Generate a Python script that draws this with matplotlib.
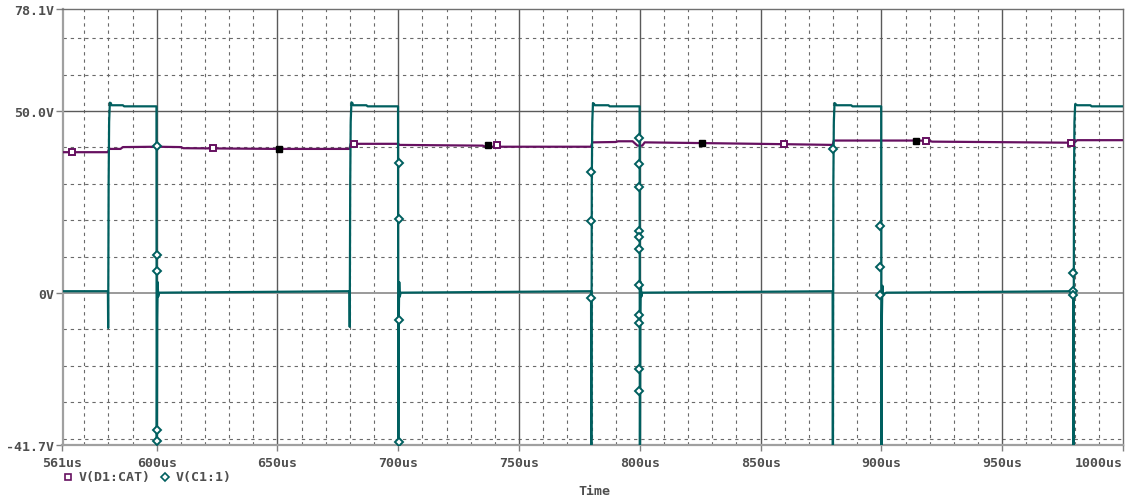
import numpy as np
import matplotlib
matplotlib.use('Agg')
import matplotlib.pyplot as plt
from matplotlib.lines import Line2D

# Axis range and labels
x_min, x_max = 561, 1000
y_min, y_max = -41.7, 78.1
x_ticks = [561, 600, 650, 700, 750, 800, 850, 900, 950, 1000]
x_tick_labels = ['561us', '600us', '650us', '700us', '750us', '800us',
                 '850us', '900us', '950us', '1000us']
y_ticks = [-41.7, 0, 50.0, 78.1]
y_tick_labels = ['-41.7V', '0V', '50.0V', '78.1V']

# V(D1:CAT) breakpoints (time in us, volts)
t_cat = [561, 579.8, 580.3, 585, 586, 600, 610, 611, 650, 679.8, 680.3, 700,
         700.5, 735, 736, 779.8, 780.3, 790, 791, 797, 799, 801, 802, 826,
         860, 879.8, 880.3, 915, 920, 921, 960, 979.8, 981, 1000]
v_cat = [38.7, 38.7, 39.6, 39.6, 40.1, 40.2, 40.1, 39.8, 39.6, 39.6, 41.0, 41.0,
         40.7, 40.5, 40.2, 40.2, 41.4, 41.5, 41.7, 41.7, 40.5, 40.5, 41.4, 41.2,
         40.9, 40.7, 41.9, 41.9, 41.8, 41.6, 41.4, 41.3, 42.0, 42.0]

# V(D1:CAT) marker points
t_cat_open = [565.0, 623.5, 681.5, 741.0, 859.5, 918.5, 978.6]
v_cat_open = [38.7, 39.8, 40.9, 40.7, 40.9, 41.8, 41.2]
t_cat_fill = [650.8, 737.0, 825.6, 914.3]
v_cat_fill = [39.6, 40.7, 41.2, 41.9]

# V(C1:1) breakpoints (time in us, volts), one row per rise / fall
t_c1 = [561, 579.8, 579.9, 580.1, 580.3, 580.6, 581.0, 581.3, 586.0, 586.5, 599.9,
        600.0, 600.2, 600.4, 600.6, 601.0,
        679.8, 679.9, 680.1, 680.3, 680.6, 681.0, 681.3, 686.8, 687.3, 699.9,
        700.0, 700.2, 700.4, 700.6, 701.0,
        779.8, 779.9, 780.1, 780.3, 780.6, 781.0, 781.3, 787.0, 787.5, 799.9,
        800.0, 800.2, 800.4, 800.6, 801.0,
        879.8, 879.9, 880.1, 880.3, 880.6, 881.0, 881.3, 887.5, 888.0, 899.9,
        900.0, 900.2, 900.4, 900.6, 902.0,
        979.4, 979.5, 979.7, 979.9, 980.2, 980.6, 981.0, 986.5, 987.0, 1000]
v_c1 = [0.5, 0.5, -9.6, 30.0, 47.0, 52.3, 52.2, 51.6, 51.6, 51.3, 51.3,
        -60.0, -7.0, 3.0, -1.0, 0.1,
        0.5, -9.3, 30.0, 47.0, 52.4, 52.2, 51.6, 51.6, 51.3, 51.3,
        -60.0, -7.0, 3.0, -1.0, 0.1,
        0.5, -60.0, 30.0, 47.0, 52.2, 52.0, 51.6, 51.6, 51.3, 51.3,
        -60.0, -8.0, 3.0, -1.0, 0.1,
        0.5, -60.0, 30.0, 47.0, 52.2, 52.0, 51.6, 51.6, 51.3, 51.3,
        -60.0, -6.2, 2.0, -0.5, 0.1,
        0.5, -60.0, 30.0, 47.0, 51.9, 51.8, 51.6, 51.6, 51.3, 51.3]

# V(C1:1) diamond markers
t_c1_mark = [600.0, 600.0, 600.0, 600.0, 600.0,
             700.1, 700.1, 700.1, 700.1,
             779.9, 779.9, 779.9,
             799.8, 799.8, 799.8, 799.8, 799.8, 799.8, 799.8, 799.8, 799.8, 799.8, 799.8,
             879.8,
             899.6, 899.6, 899.6,
             979.5, 979.5, 979.5]
v_c1_mark = [40.3, 10.4, 6.1, -37.6, -40.6,
             35.6, 20.3, -7.3, -40.8,
             33.3, 19.8, -1.5,
             42.5, 35.5, 29.2, 17.1, 15.3, 12.1, 2.3, -6.0, -8.2, -20.9, -26.8,
             39.6,
             18.5, 7.1, -0.5,
             5.5, 0.6, -0.5]

# Colours and font
purple = '#661060'
teal = '#005f5f'
text_col = '#4e4e4e'
mono = {'family': 'DejaVu Sans Mono', 'weight': 'bold', 'size': 9.5}

W, H = 1126, 502
fig = plt.figure(figsize=(W / 100, H / 100), dpi=100)
ax = fig.add_axes([62.5 / W, 1 - 445.8 / H, (1123 - 62.5) / W, (445.8 - 9.8) / H])

# Dotted minor grid
for xv in range(570, 1000, 10):
    if xv % 50 != 0:
        ax.axvline(xv, color='#6a6a6a', lw=0.8, ls=(0, (3, 3.5)), zorder=1)
for yv in range(-40, 78, 10):
    if yv not in (0, 50):
        ax.axhline(yv, color='#6a6a6a', lw=0.8, ls=(0, (3, 3.5)), zorder=1)

# Solid major grid
for xv in range(600, 1000, 50):
    ax.axvline(xv, color='#5a5a5a', lw=1.0, zorder=1)
ax.axhline(50, color='#5a5a5a', lw=1.0, zorder=1)
ax.axhline(0, color='#9a9a9a', lw=1.4, zorder=1)

# Traces
ax.plot(t_cat, v_cat, color=purple, lw=1.6, zorder=3)
ax.plot(t_c1, v_c1, color=teal, lw=1.6, zorder=4)
ax.plot(t_cat_open, v_cat_open, ls='none', marker='s', ms=5, mfc='white',
        mec=purple, mew=1.4, zorder=5)
ax.plot(t_cat_fill, v_cat_fill, ls='none', marker='s', ms=4.5, mfc='black',
        mec='black', zorder=5)
ax.plot(t_c1_mark, v_c1_mark, ls='none', marker='D', ms=4.2, mfc='white',
        mec=teal, mew=1.4, zorder=6)

ax.set_xlim(x_min, x_max)
ax.set_ylim(y_min, y_max)

# Ticks
ax.set_xticks(x_ticks)
ax.set_xticklabels(x_tick_labels, fontdict=mono, color=text_col)
ax.set_yticks(y_ticks)
ax.set_yticklabels(y_tick_labels, fontdict=mono, color=text_col)
ax.get_xticklabels()[-1].set_horizontalalignment('right')
ax.tick_params(axis='x', length=4, width=1, color='#808080', pad=4)
ax.tick_params(axis='y', length=5, width=1, color='#808080', pad=1)

# Frame
for side in ('left', 'bottom'):
    ax.spines[side].set_color('#a0a0a0')
    ax.spines[side].set_linewidth(1.6)
for side in ('top', 'right'):
    ax.spines[side].set_color('#707070')
    ax.spines[side].set_linewidth(1.0)

# Legend under the axis
ly = 1 - 478 / H
fig.add_artist(Line2D([68 / W], [ly], marker='s', ms=5, mfc='white', mec=purple,
                      mew=1.2, ls='none', transform=fig.transFigure))
fig.text(79 / W, ly, 'V(D1:CAT)', fontdict=mono, color=text_col, va='center')
fig.add_artist(Line2D([165 / W], [ly], marker='D', ms=4.2, mfc='white', mec=teal,
                      mew=1.2, ls='none', transform=fig.transFigure))
fig.text(176 / W, ly, 'V(C1:1)', fontdict=mono, color=text_col, va='center')

# X axis title
fig.text(594 / W, 1 - 492 / H, 'Time', fontdict=mono, color=text_col,
         ha='center', va='center')

fig.savefig('out.png', dpi=100, facecolor='white')
